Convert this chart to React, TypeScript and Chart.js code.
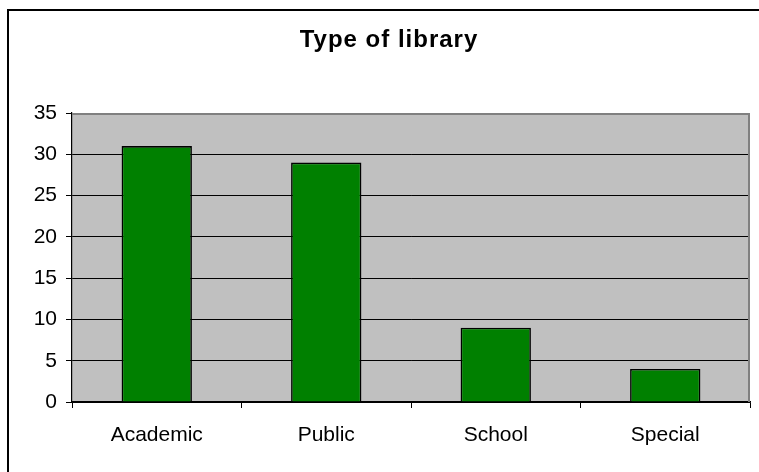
import { useEffect, useRef } from "react";
import { Chart, registerables } from "chart.js";

Chart.register(...registerables);

const chartTitle = "Type of library";
const categories = ["Academic", "Public", "School", "Special"];
const libraryCounts = [31, 29, 9, 4];
const yMin = 0;
const yMax = 35;
const yStep = 5;

const FONT = "'Liberation Sans', Arial, Helvetica, sans-serif";
const WIDTH = 759;
const HEIGHT = 472;

// Grey plot background, grey frame on top/right, outer border and the title.
const decorPlugin = {
  id: "decor",
  beforeDraw(chart: any) {
    const { ctx, chartArea: a } = chart;
    ctx.save();
    ctx.fillStyle = "#c0c0c0";
    ctx.fillRect(a.left, a.top, a.right - a.left, a.bottom - a.top);
    ctx.restore();
  },
  beforeDatasetsDraw(chart: any) {
    const { ctx, chartArea: a } = chart;
    ctx.save();
    ctx.strokeStyle = "#808080";
    ctx.lineWidth = 2;
    ctx.beginPath();
    ctx.moveTo(a.left, a.top + 1);
    ctx.lineTo(a.right - 1, a.top + 1);
    ctx.lineTo(a.right - 1, a.bottom);
    ctx.stroke();
    ctx.restore();
  },
  afterDraw(chart: any) {
    const { ctx } = chart;
    ctx.save();
    // outer frame: top and left edges
    ctx.fillStyle = "#000";
    ctx.fillRect(7, 9, chart.width - 7, 2);
    ctx.fillRect(7, 9, 2, chart.height - 9);
    // title
    ctx.font = `bold 24px ${FONT}`;
    (ctx as any).letterSpacing = "1px";
    ctx.textAlign = "center";
    ctx.textBaseline = "middle";
    ctx.fillStyle = "#000";
    ctx.fillText(chartTitle, 389, 40);
    ctx.restore();
  },
};

export default function App() {
  const canvasRef = useRef<HTMLCanvasElement | null>(null);

  useEffect(() => {
    const canvas = canvasRef.current;
    if (!canvas) return;
    const chart = new Chart(canvas, {
      type: "bar",
      data: {
        labels: categories,
        datasets: [
          {
            data: libraryCounts,
            backgroundColor: "#008000",
            borderColor: "#000000",
            borderWidth: 1.6,
            categoryPercentage: 1,
            barPercentage: 0.415,
          },
        ],
      },
      plugins: [decorPlugin],
      options: {
        responsive: false,
        animation: false,
        devicePixelRatio: 1,
        layout: { padding: { left: 10, right: 9, top: 113, bottom: 0 } },
        plugins: {
          legend: { display: false },
          tooltip: { enabled: false },
          title: { display: false },
        },
        scales: {
          x: {
            type: "category",
            offset: true,
            grid: {
              offset: true,
              drawOnChartArea: false,
              drawTicks: true,
              tickLength: 6,
              color: "#000",
            },
            border: { display: true, color: "#000", width: 1.2 },
            ticks: {
              color: "#000",
              padding: 15,
              font: { family: FONT, size: 21 },
              maxRotation: 0,
            },
            afterFit: (s: any) => {
              s.height = 70;
            },
          },
          y: {
            min: yMin,
            max: yMax,
            grid: { color: "#000", lineWidth: 1, tickLength: 6 },
            border: { display: true, color: "#000", width: 1.2 },
            ticks: {
              stepSize: yStep,
              color: "#000",
              padding: 9,
              font: { family: FONT, size: 21 },
            },
            afterFit: (s: any) => {
              s.width = 62;
            },
          },
        },
      },
    });
    return () => chart.destroy();
  }, []);

  return (
    <div style={{ position: "absolute", left: 0, top: 0, width: WIDTH, height: HEIGHT, background: "#fff" }}>
      <canvas ref={canvasRef} width={WIDTH} height={HEIGHT} style={{ display: "block" }} />
    </div>
  );
}
